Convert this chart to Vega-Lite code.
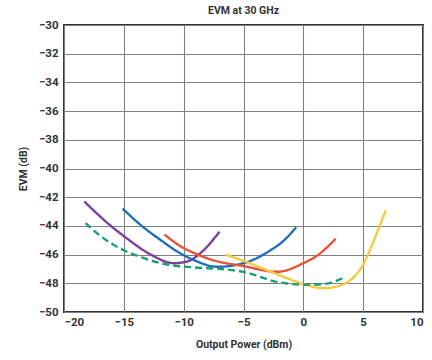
{
  "$schema": "https://vega.github.io/schema/vega-lite/v6.json",
  "autosize": {"type": "none"},
  "width": 359,
  "height": 287,
  "padding": {"left": 64, "top": 25, "right": 9, "bottom": 48},
  "background": "white",
  "title": {"text": "EVM at 30 GHz", "fontSize": 10.5, "font": "Roboto", "fontWeight": "bold", "color": "#333333", "offset": 3},
  "config": {
    "view": {"stroke": "#333333", "strokeWidth": 2},
    "axis": {"labelFont": "Roboto", "titleFont": "Roboto", "labelFontWeight": "bold", "titleFontWeight": "bold", "labelFontSize": 11.5, "titleFontSize": 10.5, "labelColor": "#333333", "titleColor": "#333333", "gridColor": "#808080", "gridWidth": 1.1, "gridOpacity": 1, "domain": false, "ticks": false}
  },
  "data": {"values": [
    {"s": "A", "x": -18.3, "y": -42.3},
    {"s": "A", "x": -16.5, "y": -43.7},
    {"s": "A", "x": -14.7, "y": -44.9},
    {"s": "A", "x": -12.75, "y": -46.0},
    {"s": "A", "x": -10.8, "y": -46.6},
    {"s": "A", "x": -9.6, "y": -46.45},
    {"s": "A", "x": -8.6, "y": -45.9},
    {"s": "A", "x": -7.0, "y": -44.4},
    {"s": "B", "x": -15.1, "y": -42.8},
    {"s": "B", "x": -13.5, "y": -44.0},
    {"s": "B", "x": -11.9, "y": -45.0},
    {"s": "B", "x": -10.5, "y": -45.8},
    {"s": "B", "x": -9.1, "y": -46.4},
    {"s": "B", "x": -7.2, "y": -46.85},
    {"s": "B", "x": -5.0, "y": -46.6},
    {"s": "B", "x": -2.75, "y": -45.7},
    {"s": "B", "x": -1.6, "y": -45.0},
    {"s": "B", "x": -0.6, "y": -44.1},
    {"s": "C", "x": -11.6, "y": -44.6},
    {"s": "C", "x": -10.3, "y": -45.4},
    {"s": "C", "x": -9.1, "y": -45.9},
    {"s": "C", "x": -7.5, "y": -46.4},
    {"s": "C", "x": -5.0, "y": -46.8},
    {"s": "C", "x": -2.2, "y": -47.2},
    {"s": "C", "x": 0.0, "y": -46.6},
    {"s": "C", "x": 1.1, "y": -46.1},
    {"s": "C", "x": 2.7, "y": -44.9},
    {"s": "D", "x": -6.5, "y": -46.0},
    {"s": "D", "x": -4.8, "y": -46.5},
    {"s": "D", "x": -3.0, "y": -47.1},
    {"s": "D", "x": -1.5, "y": -47.6},
    {"s": "D", "x": 0.0, "y": -48.05},
    {"s": "D", "x": 1.7, "y": -48.35},
    {"s": "D", "x": 3.4, "y": -48.05},
    {"s": "D", "x": 4.3, "y": -47.5},
    {"s": "D", "x": 5.0, "y": -46.7},
    {"s": "D", "x": 5.9, "y": -45.0},
    {"s": "D", "x": 6.9, "y": -42.9},
    {"s": "E", "x": -18.2, "y": -43.8},
    {"s": "E", "x": -16.8, "y": -44.8},
    {"s": "E", "x": -15.0, "y": -45.7},
    {"s": "E", "x": -13.5, "y": -46.2},
    {"s": "E", "x": -11.9, "y": -46.6},
    {"s": "E", "x": -9.1, "y": -46.9},
    {"s": "E", "x": -6.9, "y": -47.0},
    {"s": "E", "x": -5.0, "y": -47.2},
    {"s": "E", "x": -2.2, "y": -47.9},
    {"s": "E", "x": 0.0, "y": -48.1},
    {"s": "E", "x": 1.7, "y": -48.05},
    {"s": "E", "x": 3.4, "y": -47.6}
  ]},
  "mark": {"type": "line", "strokeWidth": 2.4, "interpolate": "monotone", "clip": true},
  "encoding": {
    "x": {"field": "x", "type": "quantitative", "scale": {"domain": [-20, 10], "nice": false},
      "axis": {"title": "Output Power (dBm)", "values": [-20, -15, -10, -5, 0, 5, 10], "labelPadding": 4, "titlePadding": 12}},
    "y": {"field": "y", "type": "quantitative", "scale": {"domain": [-50, -30], "nice": false, "zero": false},
      "axis": {"title": "EVM (dB)", "values": [-50, -48, -46, -44, -42, -40, -38, -36, -34, -32, -30], "labelPadding": 6, "titlePadding": 10}},
    "color": {"field": "s", "type": "nominal", "legend": null,
      "scale": {"domain": ["A", "B", "C", "D", "E"], "range": ["#7B3F9E", "#1F6FB8", "#E8503A", "#F6C945", "#1A9E74"]}},
    "strokeDash": {"field": "s", "type": "nominal", "legend": null,
      "scale": {"domain": ["A", "B", "C", "D", "E"], "range": [[1, 0], [1, 0], [1, 0], [1, 0], [7, 4]]}}
  }
}
